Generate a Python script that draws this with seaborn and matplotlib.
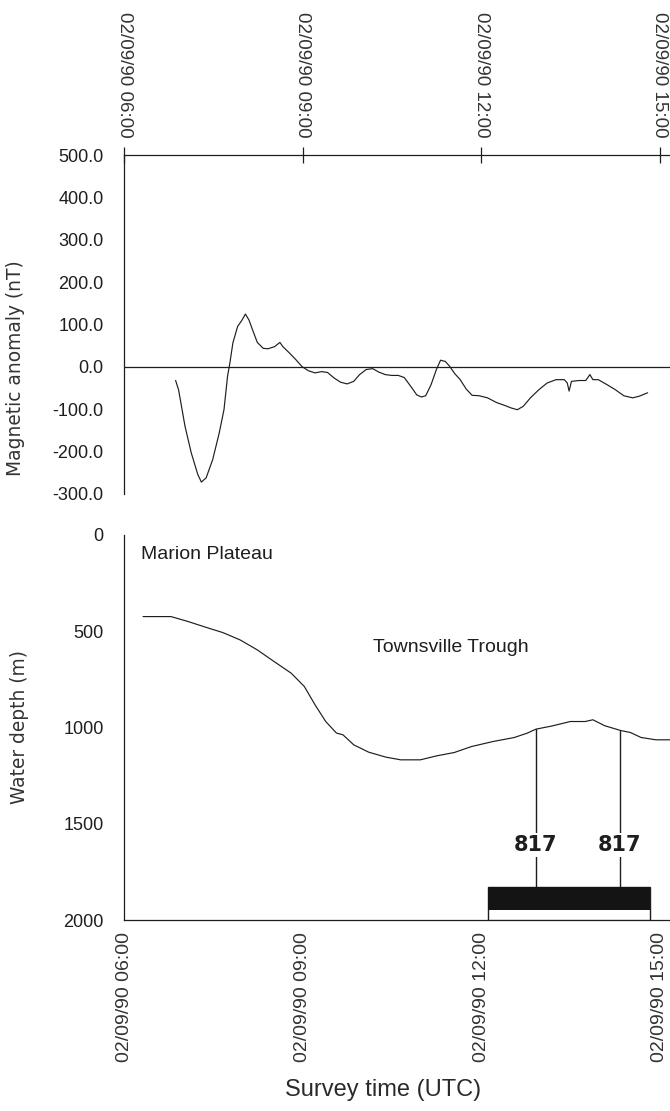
import numpy as np
import pandas as pd
import matplotlib
matplotlib.use("Agg")
import matplotlib.pyplot as plt
from matplotlib.ticker import FixedLocator, FixedFormatter, MultipleLocator
import seaborn as sns

# ---- survey data (hours of day, UTC, 02/09/90) ----
mag_hours = [6.867, 6.917, 7.025, 7.13, 7.24, 7.30, 7.38, 7.49, 7.60, 7.68,
             7.74, 7.78, 7.83, 7.91, 7.98, 8.04, 8.10, 8.17, 8.24, 8.34,
             8.42, 8.53, 8.62, 8.67, 8.78, 8.89, 8.99, 9.10, 9.21, 9.32,
             9.42, 9.53, 9.64, 9.75, 9.86, 9.96, 10.07, 10.18, 10.28, 10.39,
             10.50, 10.61, 10.71, 10.82, 10.92, 11.00, 11.07, 11.16, 11.25, 11.32,
             11.40, 11.47, 11.56, 11.65, 11.75, 11.85, 11.97, 12.11, 12.26, 12.40,
             12.51, 12.61, 12.71, 12.83, 12.97, 13.11, 13.26, 13.40, 13.45, 13.48,
             13.52, 13.65, 13.76, 13.83, 13.88, 13.97, 14.12, 14.26, 14.40, 14.55,
             14.66, 14.80]
mag_nT = [-32, -54, -140, -203, -254, -272, -262, -219, -156, -101,
          -22, 10, 57, 96, 110, 125, 111, 84, 58, 44,
          43, 48, 58, 48, 33, 17, 1, -9, -14, -11,
          -13, -26, -36, -40, -34, -18, -6, -4, -12, -18,
          -20, -20, -25, -46, -66, -71, -68, -42, -6, 16,
          13, 2, -16, -30, -52, -67, -68, -73, -84, -91,
          -97, -101, -93, -73, -54, -38, -30, -30, -38, -57,
          -34, -32, -32, -18, -30, -30, -42, -54, -68, -73,
          -69, -61]

depth_hours = [6.32, 6.79, 7.08, 7.37, 7.66, 7.95, 8.24, 8.52, 8.81, 9.03,
               9.21, 9.39, 9.57, 9.68, 9.86, 10.11, 10.40, 10.65, 10.98, 11.26,
               11.55, 11.84, 12.20, 12.56, 12.78, 12.92, 13.21, 13.50, 13.75, 13.88,
               14.08, 14.35, 14.51, 14.69, 14.94, 15.22]
depth_m = [424, 424, 450, 479, 507, 545, 597, 657, 718, 787,
           882, 969, 1029, 1038, 1090, 1128, 1154, 1168, 1168, 1147,
           1130, 1099, 1073, 1052, 1029, 1009, 991, 969, 969, 960,
           991, 1016, 1026, 1052, 1064, 1064]

site_hours = [12.92, 14.33]
site_seafloor_m = [1009, 1016]
site_names = ["817", "817"]
site_label_depth = 1611

window_start, window_end = 12.12, 14.84
window_top_m, window_fill_base_m, window_base_m = 1830, 1950, 2000

major_hours = [6, 9, 12, 15]
time_labels = ["02/09/90 06:00", "02/09/90 09:00", "02/09/90 12:00", "02/09/90 15:00"]
mag_ticks = [-300, -200, -100, 0, 100, 200, 300, 400, 500]
mag_tick_labels = ["-300.0", "-200.0", "-100.0", "0.0", "100.0", "200.0", "300.0", "400.0", "500.0"]
depth_ticks = [0, 500, 1000, 1500, 2000]

# ---- style ----
sns.set_style("white")
plt.rcParams["font.family"] = ["Liberation Sans", "DejaVu Sans"]
ink = "#1e1e1e"
plt.rcParams.update({
    "axes.edgecolor": ink, "axes.linewidth": 0.9,
    "xtick.color": ink, "ytick.color": ink,
    "text.color": ink, "axes.labelcolor": "#333333",
})

fig = plt.figure(figsize=(6.7, 11.11), dpi=100)
ax1 = fig.add_axes([0.1851, 0.5554, 0.8149, 0.3048])
ax2 = fig.add_axes([0.1851, 0.1719, 0.8149, 0.3466])
xlim = (6.0, 15.176)

# ---- magnetic anomaly ----
mag = pd.DataFrame({"hour": mag_hours, "nT": mag_nT})
sns.lineplot(data=mag, x="hour", y="nT", ax=ax1, color=ink, lw=0.85, estimator=None)
ax1.axhline(0, color=ink, lw=0.9)
ax1.set_xlim(*xlim)
ax1.set_ylim(-300, 500)
for s in ("right", "bottom"):
    ax1.spines[s].set_visible(False)
ax1.xaxis.tick_top()
ax1.xaxis.set_major_locator(FixedLocator(major_hours))
ax1.xaxis.set_major_formatter(FixedFormatter(time_labels))
ax1.tick_params(axis="x", which="major", direction="inout", length=11, width=0.9,
                pad=7.5, labelsize=13.5, labelrotation=-90, labelcolor="#333333")
ax1.yaxis.set_major_locator(FixedLocator(mag_ticks))
ax1.yaxis.set_major_formatter(FixedFormatter(mag_tick_labels))
ax1.tick_params(axis="y", which="major", direction="inout", length=9.4, width=0.9,
                pad=10, labelsize=13)
ax1.set_xlabel("")
ax1.set_ylabel("Magnetic anomaly (nT)", fontsize=13.4, family=["DejaVu Sans"])
ax1.yaxis.set_label_coords(-0.181, 0.372)

# ---- water depth ----
bathy = pd.DataFrame({"hour": depth_hours, "depth": depth_m})
sns.lineplot(data=bathy, x="hour", y="depth", ax=ax2, color=ink, lw=0.85, estimator=None)

# survey window box at the base of the section
ax2.bar(window_start, window_base_m - window_top_m, width=window_end - window_start,
        bottom=window_top_m, align="edge", facecolor="white", edgecolor=ink, lw=1.0, zorder=3)
ax2.bar(window_start, window_fill_base_m - window_top_m, width=window_end - window_start,
        bottom=window_top_m, align="edge", color="#141414", lw=0, zorder=4)

# site markers
for h, sf, name in zip(site_hours, site_seafloor_m, site_names):
    ax2.plot([h, h], [sf, window_fill_base_m], color=ink, lw=1.0, zorder=2)
    ax2.text(h, site_label_depth, name, ha="center", va="center", fontsize=15,
             fontweight="bold", family=["Liberation Sans Narrow", "DejaVu Sans"],
             bbox=dict(facecolor="white", edgecolor="none", pad=1.5), zorder=5)

ax2.text(6.29, 104, "Marion Plateau", ha="left", va="center", fontsize=14)
ax2.text(10.18, 582, "Townsville Trough", ha="left", va="center", fontsize=14)

ax2.set_xlim(*xlim)
ax2.set_ylim(2000, 0)
for s in ("right", "top"):
    ax2.spines[s].set_visible(False)
ax2.xaxis.set_major_locator(FixedLocator(major_hours))
ax2.xaxis.set_major_formatter(FixedFormatter(time_labels))
ax2.xaxis.set_minor_locator(MultipleLocator(1))
ax2.tick_params(axis="x", which="major", direction="inout", length=9, width=0.9,
                pad=4, labelsize=14, labelrotation=90, labelcolor="#333333")
ax2.tick_params(axis="x", which="minor", direction="in", length=3, width=0.8)
ax2.yaxis.set_major_locator(FixedLocator(depth_ticks))
ax2.yaxis.set_minor_locator(MultipleLocator(100))
ax2.tick_params(axis="y", which="major", direction="inout", length=9.4, width=0.9,
                pad=10, labelsize=13)
ax2.tick_params(axis="y", which="minor", direction="in", length=3, width=0.8)
ax2.set_xlabel("Survey time (UTC)", fontsize=17, color="#2a2a2a",
               family=["Liberation Sans Narrow", "Liberation Sans"])
ax2.xaxis.set_label_coords(0.475, -0.412)
ax2.set_ylabel("Water depth (m)", fontsize=13.4, family=["DejaVu Sans"])
ax2.yaxis.set_label_coords(-0.174, 0.5)

fig.savefig("out.png", dpi=100, facecolor="white")
